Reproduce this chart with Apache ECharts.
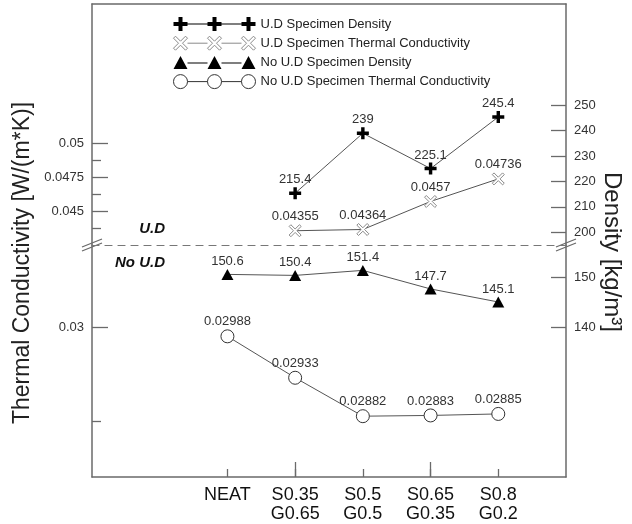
<!DOCTYPE html>
<html>
<head>
<meta charset="utf-8">
<script src="https://cdn.jsdelivr.net/npm/echarts@6/dist/echarts.min.js"></script>
<style>html,body{margin:0;padding:0;background:#fff}#c{width:632px;height:524px}</style>
</head>
<body>
<div id="c"></div>
<script>
// ---- data ----
const categories = ['NEAT', 'S0.35\nG0.65', 'S0.5\nG0.5', 'S0.65\nG0.35', 'S0.8\nG0.2'];
const udDensity = [null, 215.4, 239, 225.1, 245.4];
const udConductivity = [null, 0.04355, 0.04364, 0.0457, 0.04736];
const noUdDensity = [150.6, 150.4, 151.4, 147.7, 145.1];
const noUdConductivity = [0.02988, 0.02933, 0.02882, 0.02883, 0.02885];
const seriesNames = ['U.D Specimen Density', 'U.D Specimen Thermal Conductivity', 'No U.D Specimen Density', 'No U.D Specimen Thermal Conductivity'];
// tick labels
const tcUpperTicks = [0.045, 0.0475, 0.05];
const tcUpperMinor = [0.04375, 0.04625, 0.04875];
const tcLowerTicks = [0.03];
const tcLowerMinor = [0.02875];
const densUpperTicks = [200, 210, 220, 230, 240, 250];
const densLowerTicks = [140, 150];

// ---- layout ----
const axisCats = ['', ' '].concat(categories, ['  ']);
const pairs = arr => categories.map((c, i) => arr[i] == null ? null : [c, arr[i]]).filter(Boolean);
const FONT = 'Liberation Sans, Arial, sans-serif';
const AX = '#6a6a6a';

function yAx(grid, pos, min, max, ticks, len, showLabel, showLine) {
  return {
    type: 'value', gridIndex: grid, position: pos, min: min, max: max,
    splitLine: { show: false },
    axisLine: { show: showLine, lineStyle: { color: AX, width: 1.5 } },
    axisTick: { show: true, inside: true, length: len, customValues: ticks, lineStyle: { color: AX, width: 1.3 } },
    axisLabel: { show: showLabel, customValues: ticks, margin: 8, fontSize: 13, color: '#333', fontFamily: FONT }
  };
}

const pathPlus = 'M5,0h4v5h5v4h-5v5h-4v-5h-5v-4h5z';
const pathX = 'M2,0L7,5L12,0L14,2L9,7L14,12L12,14L7,9L2,14L0,12L5,7L0,2Z';
function shift(p, dx) { return p.replace(/([ML])(\d+),(\d+)/g, (m, c, x, y) => c + (+x + dx) + ',' + y); }
const legPlus = 'path://' + 'M5,0h4v5h5v4h-5v5h-4v-5h-5v-4h5z' + 'M39,0h4v5h5v4h-5v5h-4v-5h-5v-4h5z' + 'M73,0h4v5h5v4h-5v5h-4v-5h-5v-4h5z' + 'M14,6.5h20v1h-20z M48,6.5h20v1h-20z';
const legX = 'path://' + pathX + shift(pathX, 34) + shift(pathX, 68) + 'M14,7L34,7M48,7L68,7';
const legTri = 'path://M7,0L14,13L0,13Z M41,0L48,13L34,13Z M75,0L82,13L68,13Z M14,6.5h20v1h-20z M48,6.5h20v1h-20z';
const legCirc = 'path://M0,7a7,7 0 1,0 14,0a7,7 0 1,0 -14,0Z M34,7a7,7 0 1,0 14,0a7,7 0 1,0 -14,0Z M68,7a7,7 0 1,0 14,0a7,7 0 1,0 -14,0Z M14,7L34,7M48,7L68,7';

const labelStyle = { show: true, position: 'top', distance: 1, fontSize: 13, color: '#333', fontFamily: FONT };
const lineStyle = { color: '#555', width: 1 };

const option = {
  animation: false,
  backgroundColor: '#fff',
  legend: {
    orient: 'vertical', left: 168, top: 12, itemWidth: 82, itemHeight: 14, itemGap: 4.7,
    selectedMode: false,
    textStyle: { fontSize: 13, color: '#222', fontFamily: FONT, lineHeight: 14 },
    data: [
      { name: seriesNames[0], icon: legPlus, itemStyle: { color: '#000', borderWidth: 0 } },
      { name: seriesNames[1], icon: legX, itemStyle: { color: '#fff', borderColor: '#8a8a8a', borderWidth: 1 } },
      { name: seriesNames[2], icon: legTri, itemStyle: { color: '#000', borderWidth: 0 } },
      { name: seriesNames[3], icon: legCirc, itemStyle: { color: '#fff', borderColor: '#333', borderWidth: 1 } }
    ]
  },
  grid: [
    { left: 92, right: 66, top: 4, height: 241 },
    { left: 92, right: 66, top: 245, height: 234 }
  ],
  xAxis: [
    { type: 'category', gridIndex: 0, position: 'top', data: axisCats, boundaryGap: false,
      axisLine: { show: true, onZero: false, lineStyle: { color: AX, width: 1.5 } },
      axisTick: { show: false }, axisLabel: { show: false }, splitLine: { show: false } },
    { type: 'category', gridIndex: 1, position: 'bottom', data: axisCats, boundaryGap: false,
      axisLine: { show: true, onZero: false, lineStyle: { color: AX, width: 1.5 } },
      axisTick: { show: true, inside: true, length: 8, interval: (i) => i >= 2 && i <= 6, lineStyle: { color: AX, width: 1.3 } },
      axisLabel: { show: true, interval: 0, margin: 9, fontSize: 18, lineHeight: 19, color: '#111', fontFamily: FONT },
      splitLine: { show: false } },
    { type: 'category', gridIndex: 1, position: 'bottom', data: axisCats, boundaryGap: false,
      axisLine: { show: false, onZero: false },
      axisTick: { show: true, inside: true, length: 15, interval: (i) => i === 3 || i === 5, lineStyle: { color: AX, width: 1.3 } },
      axisLabel: { show: false }, splitLine: { show: false } },
    // dashed break line between the two panels
    { type: 'category', gridIndex: 1, position: 'top', data: axisCats, boundaryGap: false,
      axisLine: { show: true, onZero: false, lineStyle: { color: '#777', width: 1.2, type: [7, 6] } },
      axisTick: { show: false }, axisLabel: { show: false }, splitLine: { show: false } }
  ],
  yAxis: [
    yAx(0, 'left', 0.0425, 0.060221, tcUpperTicks, 16, true, true),
    yAx(0, 'left', 0.0425, 0.060221, tcUpperMinor, 9, false, false),
    yAx(0, 'right', 195.0, 289.88, densUpperTicks, 15, true, true),
    yAx(1, 'left', 0.028013, 0.031092, tcLowerTicks, 16, true, true),
    yAx(1, 'left', 0.028013, 0.031092, tcLowerMinor, 9, false, false),
    yAx(1, 'right', 110.22, 156.46, densLowerTicks, 15, true, true)
  ],
  series: [
    { name: seriesNames[0], type: 'line', xAxisIndex: 0, yAxisIndex: 2, data: pairs(udDensity),
      symbol: 'path://' + pathPlus, symbolSize: 12, itemStyle: { color: '#000' }, lineStyle: lineStyle,
      label: labelStyle, z: 5 },
    { name: seriesNames[1], type: 'line', xAxisIndex: 0, yAxisIndex: 0, data: pairs(udConductivity),
      symbol: 'path://' + pathX, symbolSize: 12, itemStyle: { color: '#fff', borderColor: '#8a8a8a', borderWidth: 1 },
      lineStyle: lineStyle, label: labelStyle, z: 4 },
    { name: seriesNames[2], type: 'line', xAxisIndex: 1, yAxisIndex: 5, data: pairs(noUdDensity),
      symbol: 'triangle', symbolSize: [12, 11], itemStyle: { color: '#000' }, lineStyle: lineStyle,
      label: labelStyle, z: 5 },
    { name: seriesNames[3], type: 'line', xAxisIndex: 1, yAxisIndex: 3, data: pairs(noUdConductivity),
      symbol: 'circle', symbolSize: 13, itemStyle: { color: '#fff', borderColor: '#333', borderWidth: 1 },
      lineStyle: lineStyle, label: labelStyle, z: 4 }
  ],
  graphic: [
    { type: 'text', x: 23, y: 263, rotation: Math.PI / 2,
      style: { text: 'Thermal Conductivity [W/(m*K)]', font: '23px Liberation Sans', fill: '#222', align: 'center', verticalAlign: 'middle' } },
    { type: 'text', x: 612, y: 252, rotation: -Math.PI / 2,
      style: { text: 'Density [kg/m³]', font: '24px Liberation Sans', fill: '#222', align: 'center', verticalAlign: 'middle' } },
    { type: 'text', x: 165, y: 229,
      style: { text: 'U.D', font: 'italic bold 15px Liberation Sans', fill: '#111', align: 'right', verticalAlign: 'middle' } },
    { type: 'text', x: 165, y: 263,
      style: { text: 'No U.D', font: 'italic bold 15px Liberation Sans', fill: '#111', align: 'right', verticalAlign: 'middle' } },
    { type: 'line', shape: { x1: 82, y1: 247, x2: 102, y2: 239 }, style: { stroke: AX, lineWidth: 1.2 } },
    { type: 'line', shape: { x1: 82, y1: 251, x2: 102, y2: 243 }, style: { stroke: AX, lineWidth: 1.2 } },
    { type: 'line', shape: { x1: 556, y1: 247, x2: 576, y2: 239 }, style: { stroke: AX, lineWidth: 1.2 } },
    { type: 'line', shape: { x1: 556, y1: 251, x2: 576, y2: 243 }, style: { stroke: AX, lineWidth: 1.2 } }
  ]
};
const chart = echarts.init(document.getElementById('c'), null, { renderer: 'canvas' });
chart.setOption(option);
</script>
</body>
</html>
